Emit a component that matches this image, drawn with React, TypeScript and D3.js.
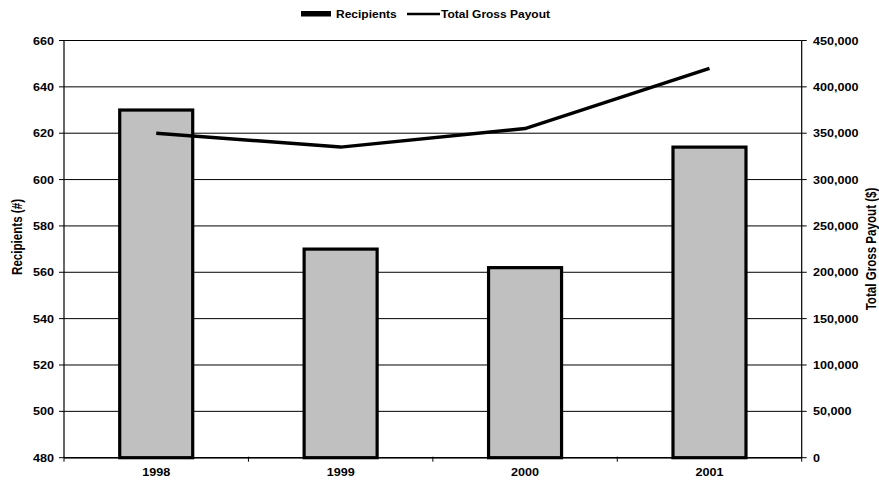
import React from "react";
import * as d3 from "d3";

const years = ["1998", "1999", "2000", "2001"];
const recipients = [630, 570, 562, 614];
const grossPayout = [350000, 335000, 355000, 420000];
const leftTicks = [480, 500, 520, 540, 560, 580, 600, 620, 640, 660];
const rightTicks = [0, 50000, 100000, 150000, 200000, 250000, 300000, 350000, 400000, 450000];

const W = 879;
const H = 480;
const plot = { left: 64, right: 801.7, top: 40.5, bottom: 457.7 };
const FONT = "'Liberation Sans', Arial, sans-serif";
const SX = 1.2;

function Label(props: {
  x: number;
  y: number;
  anchor?: "start" | "middle" | "end";
  rotate?: number;
  size?: number;
  children: React.ReactNode;
}) {
  const { x, y, anchor = "start", rotate = 0, size = 10.5, children } = props;
  const t = rotate
    ? `translate(${x},${y}) scale(${SX},1) rotate(${rotate})`
    : `translate(${x},${y}) scale(${SX},1)`;
  return (
    <text
      transform={t}
      textAnchor={anchor}
      fontFamily={FONT}
      fontWeight="bold"
      fontSize={size}
      fill="#000"
    >
      {children}
    </text>
  );
}

export default function App() {
  const x = d3.scaleBand().domain(years).range([plot.left, plot.right]).padding(0);
  const yL = d3.scaleLinear().domain([480, 660]).range([plot.bottom, plot.top]);
  const yR = d3.scaleLinear().domain([0, 450000]).range([plot.bottom, plot.top]);
  const fmt = d3.format(",");
  const barW = 73;

  const line = d3
    .line<number>()
    .x((_, i) => (x(years[i]) as number) + x.bandwidth() / 2)
    .y((d) => yR(d));

  const boundaries = years.map((y) => x(y) as number).concat([plot.right]);

  return (
    <svg width={W} height={H} style={{ position: "absolute", left: 0, top: 0, background: "#fff" }}>
      <rect x={0} y={0} width={W} height={H} fill="#fff" />
      {/* gridlines */}
      {leftTicks.map((t) => (
        <line key={t} x1={plot.left} x2={plot.right} y1={yL(t)} y2={yL(t)} stroke="#000" strokeWidth={1} />
      ))}
      {/* bars */}
      {years.map((yr, i) => {
        const cx = (x(yr) as number) + x.bandwidth() / 2;
        return (
          <rect
            key={yr}
            x={cx - barW / 2}
            y={yL(recipients[i])}
            width={barW}
            height={plot.bottom - yL(recipients[i])}
            fill="#C0C0C0"
            stroke="#000"
            strokeWidth={3.2}
          />
        );
      })}
      {/* payout line */}
      <path d={line(grossPayout) || ""} fill="none" stroke="#000" strokeWidth={3.5} />
      {/* axes */}
      <line x1={plot.left} x2={plot.left} y1={plot.top} y2={plot.bottom} stroke="#000" strokeWidth={1.2} />
      <line x1={plot.right} x2={plot.right} y1={plot.top} y2={plot.bottom} stroke="#000" strokeWidth={1.2} />
      <line x1={plot.left} x2={plot.right} y1={plot.bottom} y2={plot.bottom} stroke="#000" strokeWidth={1.5} />
      {leftTicks.map((t) => (
        <g key={"l" + t}>
          <line x1={plot.left - 5} x2={plot.left} y1={yL(t)} y2={yL(t)} stroke="#000" strokeWidth={1} />
          <Label x={54} y={yL(t) + 4} anchor="end">{t}</Label>
        </g>
      ))}
      {rightTicks.map((t) => (
        <g key={"r" + t}>
          <line x1={plot.right} x2={plot.right + 5} y1={yR(t)} y2={yR(t)} stroke="#000" strokeWidth={1} />
          <Label x={813} y={yR(t) + 4} anchor="start">{fmt(t)}</Label>
        </g>
      ))}
      {boundaries.map((b, i) => (
        <line key={"b" + i} x1={b} x2={b} y1={plot.bottom - 1} y2={plot.bottom + 4} stroke="#000" strokeWidth={1} />
      ))}
      {years.map((yr) => (
        <Label key={"c" + yr} x={(x(yr) as number) + x.bandwidth() / 2} y={475.5} anchor="middle">
          {yr}
        </Label>
      ))}
      {/* axis titles */}
      <Label x={21.5} y={237} anchor="middle" rotate={-90} size={11.6}>
        Recipients (#)
      </Label>
      <Label x={875.5} y={249} anchor="middle" rotate={-90} size={11.6}>
        Total Gross Payout ($)
      </Label>
      {/* legend */}
      <rect x={301} y={11} width={30} height={5.5} fill="#000" />
      <Label x={336} y={18} anchor="start" size={10}>Recipients</Label>
      <line x1={407} x2={440} y1={14} y2={14} stroke="#000" strokeWidth={2.5} />
      <Label x={441} y={18} anchor="start" size={10}>Total Gross Payout</Label>
    </svg>
  );
}
